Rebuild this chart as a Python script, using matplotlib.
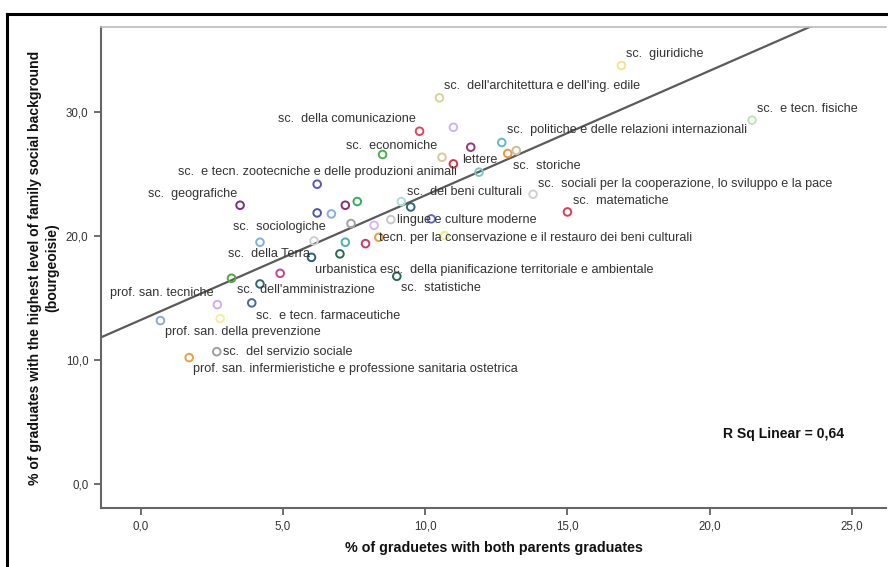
import numpy as np
import matplotlib
matplotlib.use("Agg")
import matplotlib.pyplot as plt
from matplotlib.lines import Line2D

plt.rcParams['font.family'] = ['Liberation Sans', 'DejaVu Sans']

# % of graduates with both parents graduates
both_parents = [10.50, 9.80, 10.99, 11.60, 8.50, 10.59, 10.99, 11.89, 6.20, 3.49,
                6.20, 6.70, 7.19, 7.61, 9.49, 8.79, 10.21, 7.39, 8.20, 4.19,
                6.09, 7.19, 7.90, 8.37, 10.68, 6.00, 7.00, 16.90, 21.49, 12.69,
                12.90, 13.20, 13.79, 15.00, 4.90, 3.19, 4.19, 9.00, 2.69, 3.90,
                0.69, 2.79, 2.67, 1.70, 9.16]
# % of graduates with the highest level of family social background
bourgeoisie = [31.18, 28.48, 28.80, 27.19, 26.60, 26.38, 25.84, 25.17, 24.20, 22.50,
               21.88, 21.80, 22.50, 22.80, 22.36, 21.34, 21.40, 21.02, 20.88, 19.51,
               19.62, 19.51, 19.40, 19.91, 20.05, 18.29, 18.57, 33.79, 29.37, 27.57,
               26.68, 26.92, 23.39, 21.96, 17.00, 16.60, 16.14, 16.76, 14.47, 14.61,
               13.18, 13.34, 10.67, 10.19, 22.80]
point_colors = ['#d6d3a0', '#d94a5a', '#c9b6ea', '#8e3a8c', '#4caf50', '#d8c7a0', '#d6334a',
                '#7fc8c8', '#5b5bab', '#7b2f7f', '#4a5aa8', '#8ab0d8', '#8b2f6f', '#3fa860',
                '#2f6a70', '#c8c8c8', '#6a6ac0', '#a0a0a0', '#d8b8e8', '#80b0e0', '#d0d0d0',
                '#50b0b0', '#c83a6a', '#e8a040', '#f0f080', '#306070', '#2a6a50', '#f0e68c',
                '#b8e8b0', '#60b8d0', '#e89a40', '#c8c0a0', '#d0d0d0', '#d84050', '#c04890',
                '#50a840', '#306a70', '#2a6a50', '#d0b0e8', '#4a6aa0', '#90a8d0', '#f4f098',
                '#a0a0a0', '#e8a050', '#b0dcd8']

# degree classes (labels) and where SPSS put them
label_names = [
    "sc.  giuridiche",
    "sc.  dell'architettura e dell'ing. edile",
    "sc.  e tecn. fisiche",
    "sc.  della comunicazione",
    "sc.  politiche e delle relazioni internazionali",
    "sc.  economiche",
    "lettere",
    "sc.  storiche",
    "sc.  e tecn. zootecniche e delle produzioni animali",
    "sc.  sociali per la cooperazione, lo sviluppo e la pace",
    "sc.  geografiche",
    "sc.  dei beni culturali",
    "sc.  matematiche",
    "lingue e culture moderne",
    "sc.  sociologiche",
    "tecn. per la conservazione e il restauro dei beni culturali",
    "sc.  della Terra",
    "urbanistica esc.  della pianificazione territoriale e ambientale",
    "sc.  dell'amministrazione",
    "sc.  statistiche",
    "prof. san. tecniche",
    "sc.  e tecn. farmaceutiche",
    "prof. san. della prevenzione",
    "sc.  del servizio sociale",
    "prof. san. infermieristiche e professione sanitaria ostetrica",
]
label_x = [17.05, 10.65, 21.66, 4.82, 12.87, 7.21, 11.29, 13.07, 1.30, 13.98, 0.27, 9.37,
           15.18, 9.00, 3.23, 8.37, 3.07, 6.14, 3.38, 9.15, -1.08, 4.05, 0.86, 2.90, 1.85]
label_y = [34.71, 32.12, 30.29, 29.43, 28.54, 27.27, 26.19, 25.71, 25.17, 24.25, 23.39, 23.61,
           22.88, 21.34, 20.78, 19.86, 18.57, 17.30, 15.63, 15.79, 15.42, 13.58, 12.26, 10.67, 9.27]

x_ticks = [0, 5, 10, 15, 20, 25]
y_ticks = [0, 10, 20, 30]

fig = plt.figure(figsize=(8.88, 5.67), dpi=100)
ax = fig.add_axes([101 / 888, 59 / 567, 785 / 888, 481 / 567])

ax.scatter(both_parents, bourgeoisie, s=30, facecolors='none', edgecolors=point_colors,
           linewidths=1.4, zorder=3)

# linear fit
b1, b0 = np.polyfit(both_parents, bourgeoisie, 1)
xs = np.array([-1.4, 26.2])
ax.plot(xs, b0 + b1 * xs, color='#5a5a5a', linewidth=1.6, zorder=2)

for name, lx, ly in zip(label_names, label_x, label_y):
    ax.text(lx, ly, name, fontsize=9.1, color='#333333', ha='left', va='center', zorder=4)

ax.text(0.792, 0.154, "R Sq Linear = 0,64", transform=ax.transAxes, fontsize=10.1,
        fontweight='bold', color='#111111', ha='left', va='center')

ax.set_xlim(-1.4, 26.2)
ax.set_ylim(-1.96, 36.9)
ax.set_xticks(x_ticks)
ax.set_xticklabels([f"{t:.1f}".replace('.', ',') for t in x_ticks])
ax.set_yticks(y_ticks)
ax.set_yticklabels([f"{t:.1f}".replace('.', ',') for t in y_ticks])
ax.tick_params(direction='out', length=5, width=1.2, color='#555555', labelsize=8.3,
               labelcolor='#333333', pad=4)

for side in ['left', 'bottom']:
    ax.spines[side].set_color('#666666')
    ax.spines[side].set_linewidth(1.5)
ax.spines['top'].set_color('#bbbbbb')
ax.spines['top'].set_linewidth(1.2)
ax.spines['right'].set_visible(False)

ax.set_xlabel("% of graduetes with both parents graduates", fontsize=10.3, fontweight='bold',
              color='#111111', labelpad=6)
ax.set_ylabel("% of graduates with the highest level of family social background\n(bourgeoisie)",
              fontsize=10.1, fontweight='bold', color='#111111', labelpad=5, linespacing=1.3)

# outer frame of the chart window
fig.add_artist(Line2D([7 / 888, 1], [1 - 14 / 567, 1 - 14 / 567], color='black', linewidth=2.2,
                      transform=fig.transFigure))
fig.add_artist(Line2D([7 / 888, 7 / 888], [0, 1 - 14 / 567], color='black', linewidth=2.2,
                      transform=fig.transFigure))

fig.savefig("out.png", dpi=100)
